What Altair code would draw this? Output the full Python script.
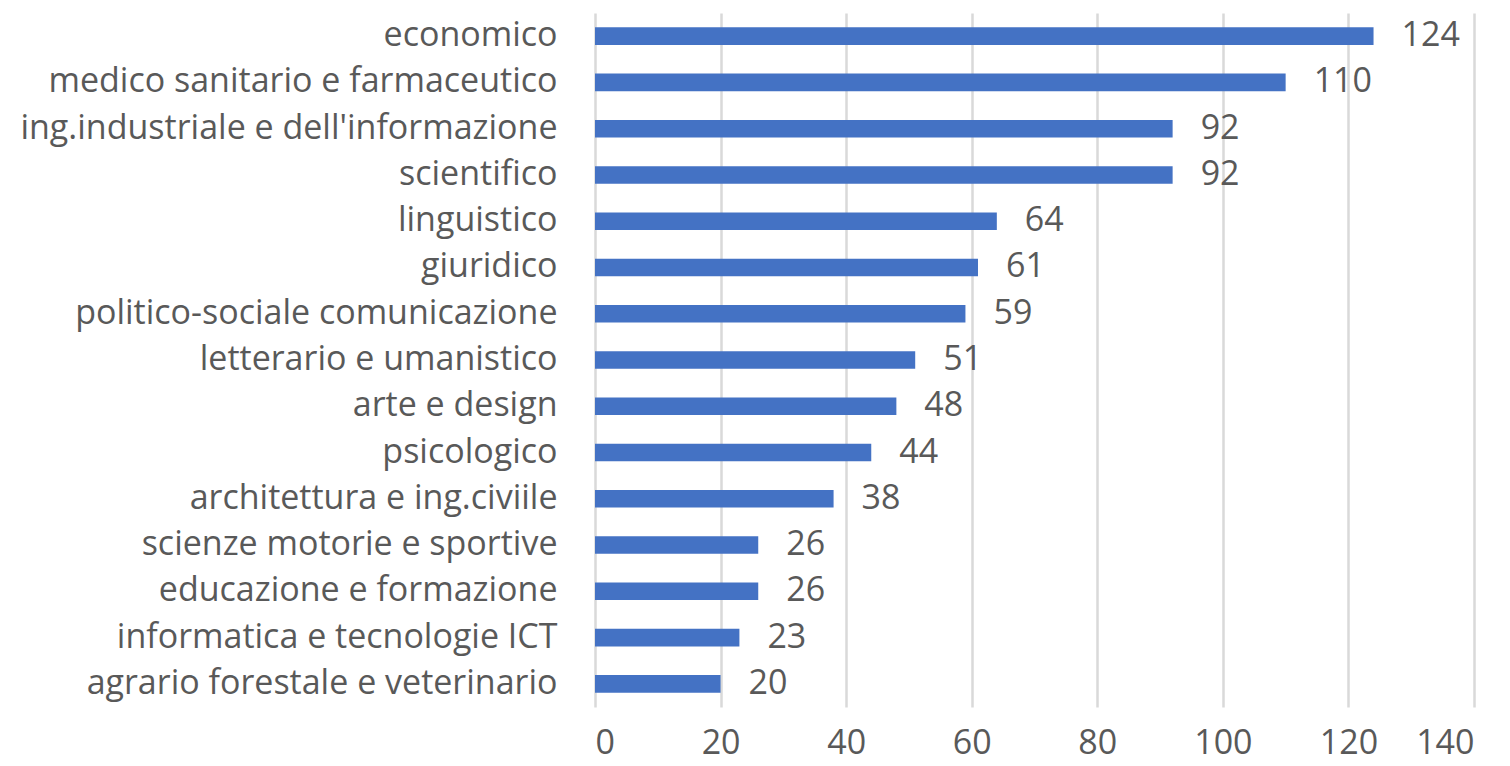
import altair as alt
import pandas as pd

categories = [
    "economico",
    "medico sanitario  e farmaceutico",
    "ing.industriale e dell'informazione",
    "scientifico",
    "linguistico",
    "giuridico",
    "politico-sociale comunicazione",
    "letterario e umanistico",
    "arte e design",
    "psicologico",
    "architettura e ing.civiile",
    "scienze motorie e sportive",
    "educazione e formazione",
    "informatica e tecnologie ICT",
    "agrario forestale e veterinario",
]
values = [124, 110, 92, 92, 64, 61, 59, 51, 48, 44, 38, 26, 26, 23, 20]
x_ticks = [0, 20, 40, 60, 80, 100, 120, 140]

df = pd.DataFrame({"cat": categories, "val": values})

FONT = "Open Sans"
TXT = "#595959"
FS = 34

y_enc = alt.Y(
    "cat:N",
    sort=categories,
    title=None,
    scale=alt.Scale(paddingInner=0.62, paddingOuter=0.31),
    axis=alt.Axis(
        labelFontSize=FS,
        labelFont=FONT,
        labelColor=TXT,
        labelPadding=38,
        ticks=False,
        domain=False,
        grid=False,
        labelLimit=700,
    ),
)
x_enc = alt.X(
    "val:Q",
    title=None,
    scale=alt.Scale(domain=[0, 140], nice=False),
    axis=alt.Axis(
        values=x_ticks,
        labelFontSize=FS,
        labelFont=FONT,
        labelColor=TXT,
        labelPadding=46,
        labelBaseline="alphabetic",
        ticks=False,
        domain=False,
        grid=True,
        gridColor="#d9d9d9",
        gridWidth=2.5,
    ),
)

bars = alt.Chart(df).mark_bar(color="#4472C4").encode(x=x_enc, y=y_enc)
labels = alt.Chart(df).mark_text(
    align="left", baseline="middle", dx=28, fontSize=FS, font=FONT, color=TXT
).encode(
    x="val:Q",
    y=alt.Y("cat:N", sort=categories),
    text="val:Q",
)

chart = (
    (bars + labels)
    .properties(
        width=879,
        height=694,
        background="white",
        padding={"left": 587, "top": 5, "right": 20, "bottom": 58},
        autosize=alt.AutoSizeParams(type="none"),
    )
    .configure_view(strokeWidth=0, stroke="transparent")
    .configure_axis(domain=False, ticks=False)
)

chart.save("out.html", embed_options={"renderer": "svg", "actions": False})
